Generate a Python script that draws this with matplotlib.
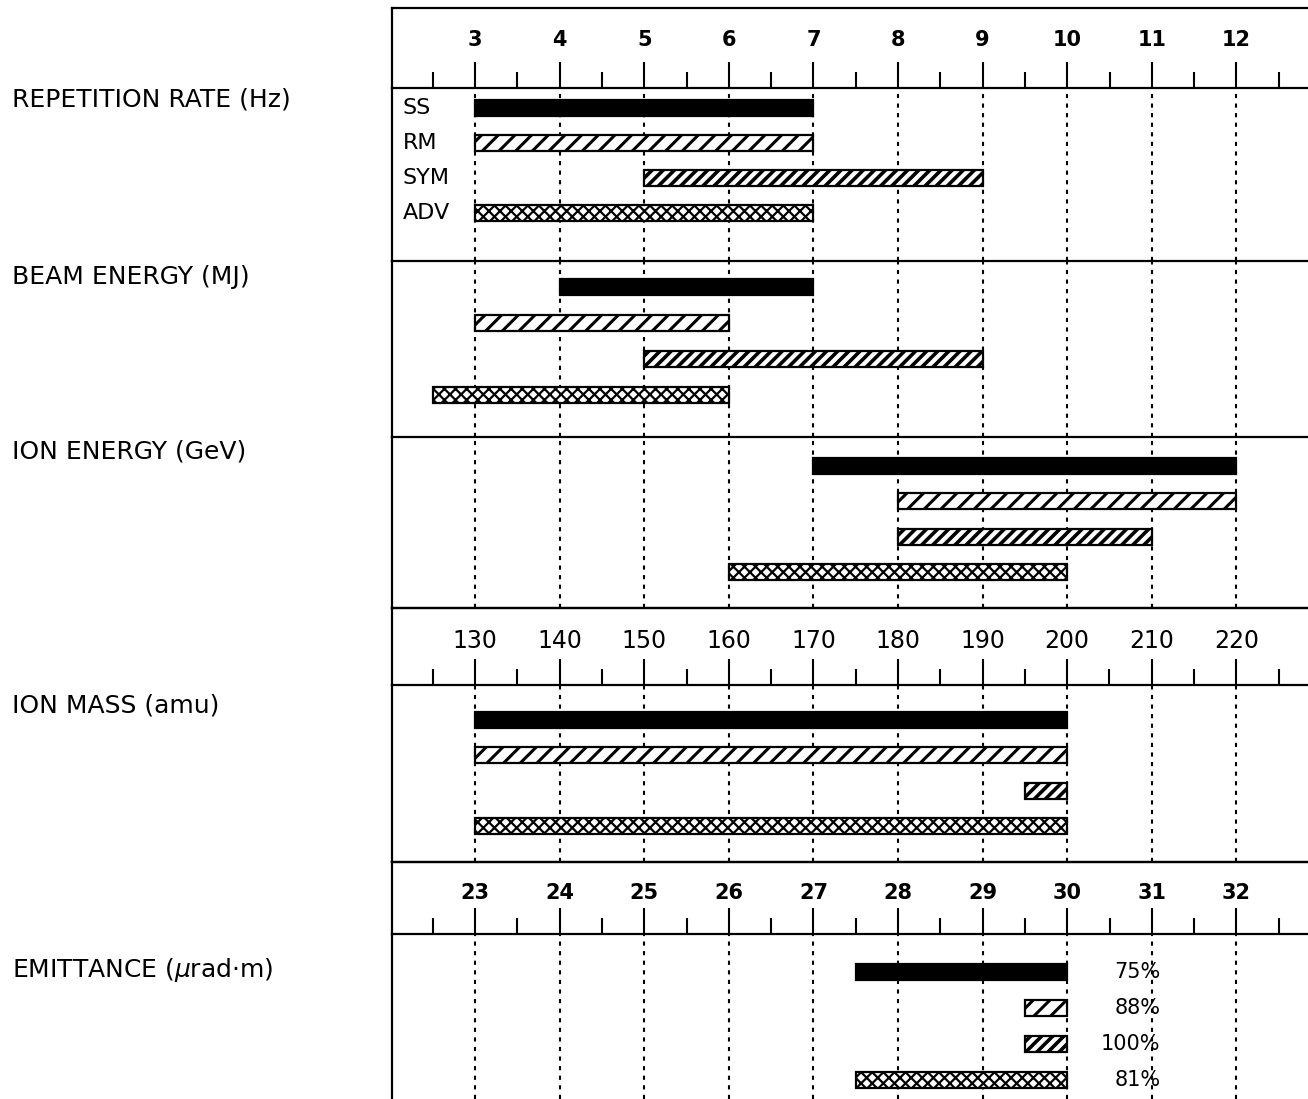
import matplotlib.pyplot as plt
from matplotlib.ticker import MultipleLocator
from matplotlib.transforms import blended_transform_factory

# design concepts, top to bottom in each block
plans = ['SS', 'RM', 'SYM', 'ADV']

rep_start = [3, 3, 5, 3]
rep_end = [7, 7, 9, 7]

beam_start = [4, 3, 5, 2.5]
beam_end = [7, 6, 9, 6]

ion_e_start = [7, 8, 8, 6]
ion_e_end = [12, 12, 11, 10]

mass_start = [130, 130, 195, 130]
mass_end = [200, 200, 200, 200]

emit_start = [27.5, 29.5, 29.5, 27.5]
emit_end = [30, 30, 30, 30]
emit_pct = ['75%', '88%', '100%', '81%']

top_ticks = [3, 4, 5, 6, 7, 8, 9, 10, 11, 12]
mass_ticks = [130, 140, 150, 160, 170, 180, 190, 200, 210, 220]
emit_ticks = [23, 24, 25, 26, 27, 28, 29, 30, 31, 32]

row_titles = ['REPETITION RATE (Hz)', 'BEAM ENERGY (MJ)', 'ION ENERGY (GeV)',
              'ION MASS (amu)', 'EMITTANCE ($\\mu$rad$\\cdot$m)']

# bar looks: solid, hatched, dense hatched, cross-hatched
faces = ['black', 'white', 'white', 'white']
hatches = [None, '//', '///', 'xxx']
hatch_lw = [1.0, 2.2, 2.6, 1.6]

W, H = 1308, 1099
fig = plt.figure(figsize=(W / 100, H / 100), dpi=100)

X0 = 392          # left frame edge, px
UNIT = 84.6       # px per major step


def add_ax(top, bottom):
    ax = fig.add_axes([X0 / W, 1 - bottom / H, 1 - X0 / W, (bottom - top) / H])
    ax.patch.set_visible(False)
    return ax


def xlimits(first_tick, step):
    lo = first_tick - step * (475 - X0) / UNIT
    hi = first_tick + step * (W - 475) / UNIT
    return lo, hi


def header(top, bottom, ticks, step, label_y, size, weight):
    ax = add_ax(top, bottom)
    ax.set_xlim(*xlimits(ticks[0], step))
    ax.set_ylim(0, 1)
    ax.set_yticks([])
    ax.set_xticks(ticks)
    ax.xaxis.set_minor_locator(MultipleLocator(step / 2))
    ax.tick_params(which='major', direction='in', length=18.5, width=1.5, labelbottom=False)
    ax.tick_params(which='minor', direction='in', length=11.5, width=1.5)
    ax.spines['right'].set_visible(False)
    for s in ['left', 'top', 'bottom']:
        ax.spines[s].set_linewidth(1.6)
    for v in ticks:
        ax.text(v, label_y, str(v), ha='center', va='center', fontsize=size,
                fontweight=weight, transform=ax.get_xaxis_transform())
    return ax


def section(top, bottom, ticks, step, starts, ends, pad_top, spacing, show_bottom=True):
    ax = add_ax(top, bottom)
    ax.set_xlim(*xlimits(ticks[0], step))
    y_top = -pad_top / spacing
    ax.set_ylim(y_top + (bottom - top) / spacing, y_top)
    ax.set_yticks([])
    ax.set_xticks(ticks)
    ax.tick_params(length=0, labelbottom=False)
    ax.set_axisbelow(True)
    ax.grid(axis='x', color='black', linewidth=1.5, linestyle=(0, (2.0, 2.6)))
    ax.spines['right'].set_visible(False)
    ax.spines['top'].set_visible(False)
    ax.spines['bottom'].set_visible(show_bottom)
    for s in ['left', 'bottom']:
        ax.spines[s].set_linewidth(1.6)
    for i, (s, e) in enumerate(zip(starts, ends)):
        with plt.rc_context({'hatch.linewidth': hatch_lw[i]}):
            ax.barh(i, e - s, left=s, height=16 / spacing, facecolor=faces[i],
                    edgecolor='black', hatch=hatches[i], linewidth=1.6)
    return ax


header(8, 88, top_ticks, 1, 0.6, 15, 'bold')
ax_rep = section(88, 261, top_ticks, 1, rep_start, rep_end, 20, 35)
section(261, 437, top_ticks, 1, beam_start, beam_end, 26, 36)
section(437, 608, top_ticks, 1, ion_e_start, ion_e_end, 29, 35.3)

header(608, 685, mass_ticks, 10, 0.57, 17, 'normal')
section(685, 862, mass_ticks, 10, mass_start, mass_end, 35, 35.3)

header(862, 934, emit_ticks, 1, 0.57, 15, 'bold')
ax_em = section(934, H, emit_ticks, 1, emit_start, emit_end, 38, 36, show_bottom=False)

# concept names inside the first block
trans = blended_transform_factory(ax_rep.transAxes, ax_rep.transData)
for i, name in enumerate(plans):
    ax_rep.text(0.012, i, name, ha='left', va='center', fontsize=16, transform=trans)

for i, pct in enumerate(emit_pct):
    ax_em.text(31.1, i, pct, ha='right', va='center', fontsize=15)

# block titles on the left
title_y = [100, 277, 452, 705, 970]
for t, y in zip(row_titles, title_y):
    fig.text(12 / W, 1 - y / H, t, ha='left', va='center', fontsize=18)

fig.savefig('out.png', dpi=100)
